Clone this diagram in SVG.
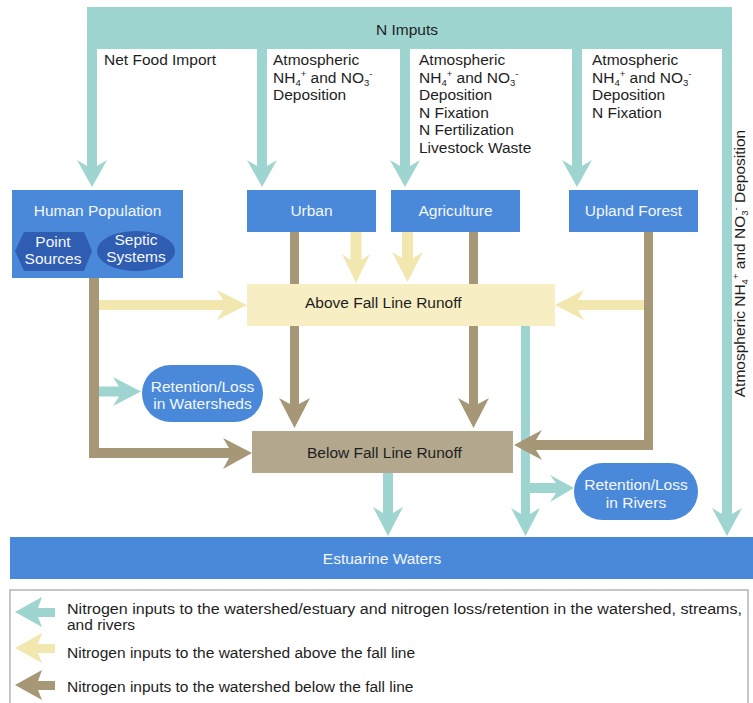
<svg xmlns="http://www.w3.org/2000/svg" width="753" height="703" viewBox="0 0 753 703">
<style>
text{font-family:"Liberation Sans",Arial,sans-serif;}
.lbl{font-size:15.5px;fill:#1e1e1e;}
.box{fill:#4a89d9;}
.boxt{font-size:15.5px;fill:#f4f7fc;text-anchor:middle;}
.teal{fill:#9ed5d0;}
.yel{fill:#f3e7b0;}
.brn{fill:#a69777;}
.sub{font-size:9.5px;}
.leg{font-size:15.5px;fill:#1e1e1e;}
</style>
<rect width="753" height="703" fill="#ffffff"/>

<g id="connectors">
  <g class="teal">
    <rect x="87" y="7" width="645" height="42"/>
    <path d="M87 49 H97 V166 L107 160 L92 187 L77 160 L87 166 Z"/>
    <path d="M257 49 H267 V166 L277 160 L262 187 L247 160 L257 166 Z"/>
    <path d="M400 49 H410 V166 L420 160 L405 187 L390 160 L400 166 Z"/>
    <path d="M572 49 H582 V166 L592 160 L577 187 L562 160 L572 166 Z"/>
    <path d="M722 49 H732 V514 L742 508 L727 536 L712 508 L722 514 Z"/>
    <path d="M99 386.5 H119 L113 377 L141 391.5 L113 406 L119 396.5 H99 Z"/>
    <path d="M521 326 H530 V514 L540 508 L525.5 536 L511 508 L521 514 Z"/>
    <path d="M530 483 H556 L550 475 L574 488 L550 502 L556 493 H530 Z"/>
    <path d="M383 473 H393 V513 L403 507 L388 536 L373 507 L383 513 Z"/>
  </g>
  <g class="brn">
    <path d="M89 278 H99 V448 H229 L223 438 L252 453 L223 469 L229 458 H89 Z"/>
    <path d="M290 232 H299 V404 L310 398 L294.5 428 L279 398 L290 404 Z"/>
    <path d="M469 232 H478 V404 L489 398 L473.5 428 L458 398 L469 404 Z"/>
    <path d="M644 232 H653 V450 H536 L542 460 L514 445 L542 430 L536 440 H644 Z"/>
  </g>
  <g class="yel">
    <path d="M99 300 H223 L217 290 L247 305 L217 320 L223 310 H99 Z"/>
    <path d="M350.5 232 H361.5 V260 L370 254 L356 283 L342 254 L350.5 260 Z"/>
    <path d="M402 232 H413 V258 L423 252 L407.5 282 L392 252 L402 258 Z"/>
    <path d="M644 300 H578 L584 290 L555 305 L584 320 L578 310 H644 Z"/>
  </g>
</g>

<g id="labels-inputs">
  <text class="lbl" x="407" y="35" text-anchor="middle">N Imputs</text>
  <text class="lbl" x="104" y="65">Net Food Import</text>
  <text class="lbl" x="273" y="65">Atmospheric</text>
  <text class="lbl" x="273" y="83">NH<tspan class="sub" dy="3">4</tspan><tspan class="sub" dy="-9">+</tspan><tspan dy="6"> and NO</tspan><tspan class="sub" dy="3">3</tspan><tspan class="sub" dy="-9">-</tspan></text>
  <text class="lbl" x="273" y="100">Deposition</text>
  <text class="lbl" x="419" y="65">Atmospheric</text>
  <text class="lbl" x="419" y="83">NH<tspan class="sub" dy="3">4</tspan><tspan class="sub" dy="-9">+</tspan><tspan dy="6"> and NO</tspan><tspan class="sub" dy="3">3</tspan><tspan class="sub" dy="-9">-</tspan></text>
  <text class="lbl" x="419" y="100">Deposition</text>
  <text class="lbl" x="419" y="118">N Fixation</text>
  <text class="lbl" x="419" y="135">N Fertilization</text>
  <text class="lbl" x="419" y="153">Livestock Waste</text>
  <text class="lbl" x="592" y="65">Atmospheric</text>
  <text class="lbl" x="592" y="83">NH<tspan class="sub" dy="3">4</tspan><tspan class="sub" dy="-9">+</tspan><tspan dy="6"> and NO</tspan><tspan class="sub" dy="3">3</tspan><tspan class="sub" dy="-9">-</tspan></text>
  <text class="lbl" x="592" y="100">Deposition</text>
  <text class="lbl" x="592" y="118">N Fixation</text>
  <text class="lbl" x="745" y="263.5" text-anchor="middle" transform="rotate(-90 745 263.5)">Atmospheric NH<tspan class="sub" dy="3">4</tspan><tspan class="sub" dy="-9">+</tspan><tspan dy="6"> and NO</tspan><tspan class="sub" dy="3">3</tspan><tspan class="sub" dy="-9">-</tspan><tspan dy="6">  Deposition</tspan></text>
</g>

<g id="human-population">
  <rect class="box" x="12" y="190" width="171" height="88"/>
  <text class="boxt" x="97.5" y="216">Human Population</text>
  <polygon points="15,251 24,232 84,232 92,251 84,271 24,271" fill="#2f5db2"/>
  <text class="boxt" x="53" y="247">Point</text>
  <text class="boxt" x="53" y="264">Sources</text>
  <ellipse cx="136" cy="251" rx="39" ry="20" fill="#2f5db2"/>
  <text class="boxt" x="136" y="245">Septic</text>
  <text class="boxt" x="136" y="262">Systems</text>
</g>

<g id="urban">
  <rect class="box" x="247" y="190" width="129" height="42"/>
  <text class="boxt" x="311.5" y="216">Urban</text>
</g>
<g id="agriculture">
  <rect class="box" x="391" y="190" width="129" height="42"/>
  <text class="boxt" x="455.5" y="216">Agriculture</text>
</g>
<g id="upland-forest">
  <rect class="box" x="569" y="190" width="129" height="42"/>
  <text class="boxt" x="633.5" y="216">Upland Forest</text>
</g>

<g id="above-fall-line">
  <rect x="247" y="284" width="308" height="42" fill="#f7eec3"/>
  <text class="lbl" x="305" y="308">Above Fall Line Runoff</text>
</g>

<g id="retention-watersheds">
  <rect class="box" x="142" y="365" width="121" height="57" rx="28.5"/>
  <text class="boxt" x="202.5" y="392">Retention/Loss</text>
  <text class="boxt" x="202.5" y="409">in Watersheds</text>
</g>

<g id="below-fall-line">
  <rect x="252" y="431" width="261" height="42" fill="#b3a88e"/>
  <text class="lbl" x="307" y="458">Below Fall Line Runoff</text>
</g>

<g id="retention-rivers">
  <rect class="box" x="574" y="463" width="124" height="57" rx="28.5"/>
  <text class="boxt" x="636" y="490">Retention/Loss</text>
  <text class="boxt" x="636" y="508">in Rivers</text>
</g>

<g id="estuarine-waters">
  <rect class="box" x="10" y="537" width="743" height="42"/>
  <text class="boxt" x="382" y="564">Estuarine Waters</text>
</g>

<g id="legend">
  <rect x="10" y="590" width="738" height="120" fill="#ffffff" stroke="#b4b4b4" stroke-width="1.5"/>
  <path class="teal" d="M15 612 L42 597 L38 608 H55 V617 H38 L42 627 Z"/>
  <path class="yel" d="M15 648 L42 633 L38 644 H55 V653 H38 L42 663 Z"/>
  <path class="brn" d="M15 685 L42 670 L38 681 H55 V690 H38 L42 700 Z"/>
  <text class="leg" x="67" y="614" textLength="675" lengthAdjust="spacingAndGlyphs">Nitrogen inputs to the watershed/estuary and nitrogen loss/retention in the watershed, streams,</text>
  <text class="leg" x="67" y="630">and rivers</text>
  <text class="leg" x="67" y="658">Nitrogen inputs to the watershed above the fall line</text>
  <text class="leg" x="67" y="692">Nitrogen inputs to the watershed below the fall line</text>
</g>
</svg>
